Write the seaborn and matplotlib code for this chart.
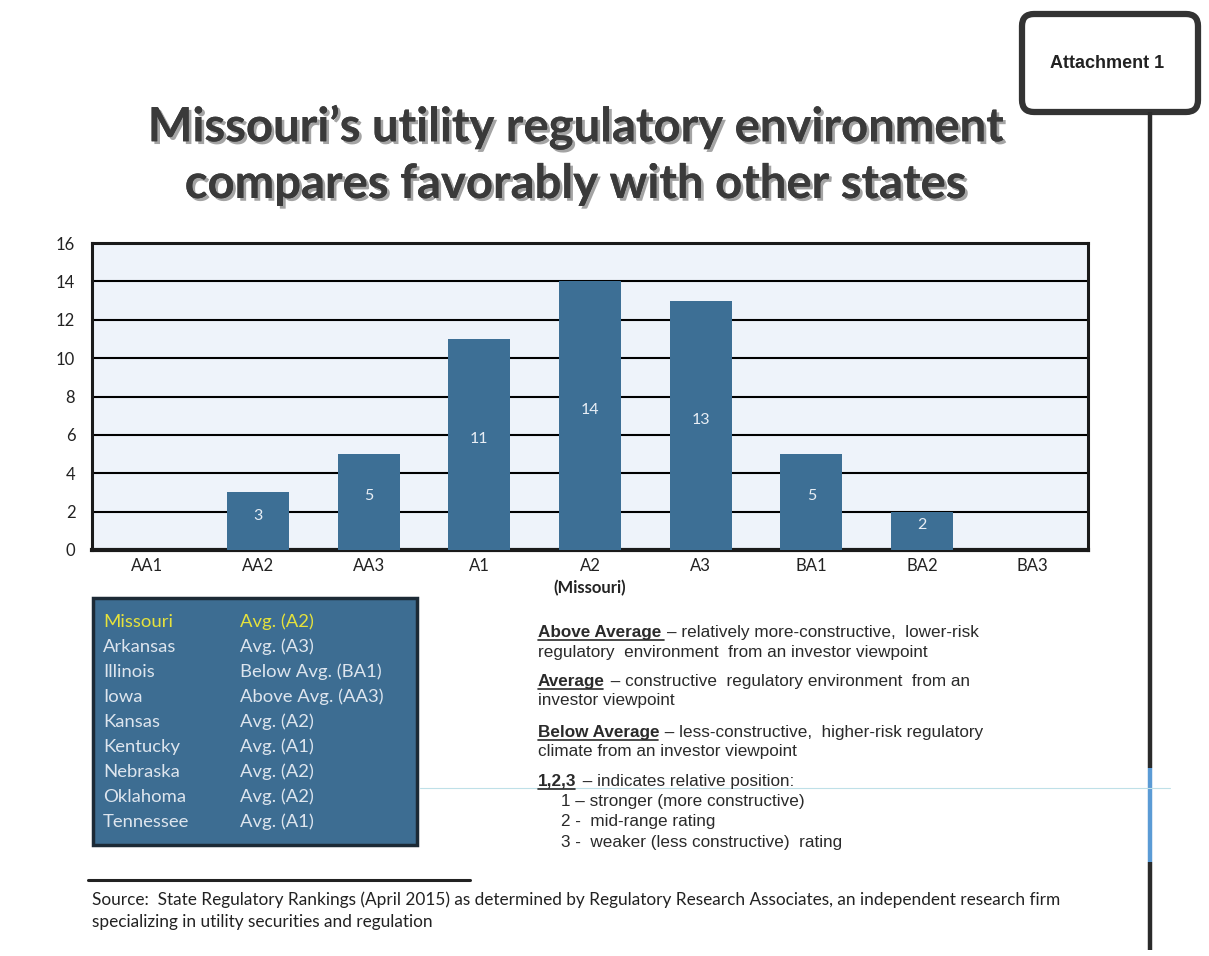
import matplotlib
matplotlib.use("Agg")
import matplotlib.pyplot as plt
import matplotlib.patheffects as pe
from matplotlib.patches import Rectangle, FancyBboxPatch
import seaborn as sns

# data
ratings = ["AA1", "AA2", "AA3", "A1", "A2", "A3", "BA1", "BA2", "BA3"]
counts = [0, 3, 5, 11, 14, 13, 5, 2, 0]
states = ["Missouri", "Arkansas", "Illinois", "Iowa", "Kansas",
          "Kentucky", "Nebraska", "Oklahoma", "Tennessee"]
state_ratings = ["Avg. (A2)", "Avg. (A3)", "Below Avg. (BA1)", "Above Avg. (AA3)",
                 "Avg. (A2)", "Avg. (A1)", "Avg. (A2)", "Avg. (A2)", "Avg. (A1)"]
y_ticks = [0, 2, 4, 6, 8, 10, 12, 14, 16]

W, H = 1209, 956
BAR = "#3d6f95"
sns.set_theme(style="white")
plt.rcParams["font.family"] = ["Lato", "DejaVu Sans"]

fig = plt.figure(figsize=(W / 100, H / 100), dpi=100, facecolor="white")

# page layer in pixel coordinates
bg = fig.add_axes([0, 0, 1, 1], zorder=0)
bg.set_xlim(0, W)
bg.set_ylim(H, 0)
bg.axis("off")

# title with drop shadow
shadow = [pe.withSimplePatchShadow(offset=(2, -2), shadow_rgbFace="#9a9a9a", alpha=0.9), pe.Normal()]
for txt, y in [("Missouri\u2019s utility regulatory environment", 127),
               ("compares favorably with other states", 184)]:
    bg.text(576, y, txt, ha="center", va="center", fontsize=34, fontweight="bold",
            color="#3a3a3a", path_effects=shadow)

# attachment tag and its post
bg.plot([1150, 1150], [112, 768], color="#2b2b2b", lw=3.2, solid_capstyle="butt")
bg.plot([1150, 1150], [768, 862], color="#5b9bd5", lw=3.2, solid_capstyle="butt")
bg.plot([1150, 1150], [862, 950], color="#2b2b2b", lw=3.2, solid_capstyle="butt")
bg.add_patch(FancyBboxPatch((1022, 14), 176, 98, boxstyle="round,pad=0,rounding_size=12",
                            facecolor="white", edgecolor="#333333", lw=4.5))
bg.text(1107, 63, "Attachment 1", ha="center", va="center", fontsize=13,
        fontweight="bold", family=["Liberation Sans"], color="#222222")

# bar chart
ax = fig.add_axes([92 / W, 1 - 550 / H, 996 / W, 307 / H], zorder=2)
ax.set_facecolor("#eef3fa")
sns.barplot(x=ratings, y=counts, order=ratings, color=BAR, width=0.56,
            saturation=1, linewidth=0, ax=ax, zorder=3)
ax.set_ylim(0, 16)
ax.set_yticks(y_ticks)
ax.set_axisbelow(True)
ax.yaxis.grid(True, color="black", lw=1.5)
ax.xaxis.grid(False)
for s in ax.spines.values():
    s.set_color("#1a1a1a")
    s.set_linewidth(2.2)
ax.spines["bottom"].set_linewidth(3)
ax.tick_params(axis="both", length=0, labelsize=12, colors="#222222")
ax.tick_params(axis="y", pad=12)
ax.tick_params(axis="x", pad=6)
ax.set_xlabel("")
ax.set_ylabel("")
ax.bar_label(ax.containers[0], labels=[str(c) if c else "" for c in counts],
             label_type="center", color="#e8eef5", fontsize=11.5, padding=4)
ax.text(ratings.index("A2"), -2.0, "(Missouri)", ha="center", va="center",
        fontsize=12, fontweight="bold", color="#222222")

# state table
bg.add_patch(Rectangle((93, 598), 324, 247, facecolor="#3d6d92", edgecolor="#1c2a36", lw=2.5))
for i, (st, rt) in enumerate(zip(states, state_ratings)):
    col = "#e6e23c" if i == 0 else "#dde5ee"
    y = 622 + i * 25.0
    bg.text(103, y, st, ha="left", va="center", fontsize=13.3, color=col)
    bg.text(240, y, rt, ha="left", va="center", fontsize=13.3, color=col)

# faint scan line
bg.plot([420, 1170], [788, 788], color="#bfe0e8", lw=0.8)

# definitions with underlined headings
renderer = fig.canvas.get_renderer()
LEG = dict(fontsize=12.3, family=["Liberation Sans"], color="#2a2a2a", va="baseline")


def heading(x, y, bold, rest):
    t = bg.text(x, y, bold, fontweight="bold", **LEG)
    bb = t.get_window_extent(renderer=renderer)
    x1 = x + bb.width
    bg.plot([x, x1 - 2], [y + 3, y + 3], color="#2a2a2a", lw=1.2)
    bg.text(x1 + 1, y, rest, **LEG)


heading(538, 637, "Above Average ", "\u2013 relatively more-constructive,  lower-risk")
bg.text(538, 657, "regulatory  environment  from an investor viewpoint", **LEG)
heading(538, 686, "Average", " \u2013 constructive  regulatory environment  from an")
bg.text(538, 705, "investor viewpoint", **LEG)
heading(538, 737, "Below Average", " \u2013 less-constructive,  higher-risk regulatory")
bg.text(538, 756, "climate from an investor viewpoint", **LEG)
heading(538, 786, "1,2,3", " \u2013 indicates relative position:")
bg.text(561, 806, "1 \u2013 stronger (more constructive)", **LEG)
bg.text(561, 826, "2 -  mid-range rating", **LEG)
bg.text(561, 847, "3 -  weaker (less constructive)  rating", **LEG)

# source note
bg.plot([88, 470], [880, 880], color="#222222", lw=2.2)
bg.text(92, 900, "Source:  State Regulatory Rankings (April 2015) as determined by Regulatory "
        "Research Associates, an independent research firm",
        ha="left", va="center", fontsize=12.4, color="#222222")
bg.text(92, 922, "specializing in utility securities and regulation",
        ha="left", va="center", fontsize=12.4, color="#222222")

fig.savefig("out.png", dpi=100, facecolor="white")
